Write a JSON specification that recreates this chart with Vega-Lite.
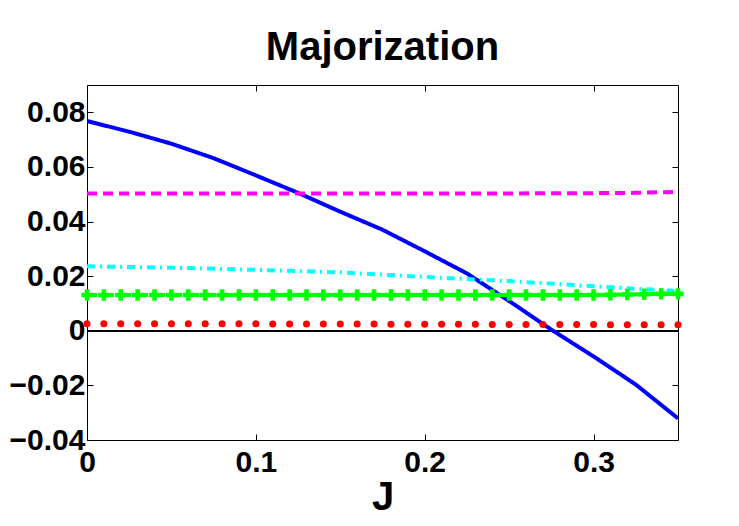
{
  "$schema": "https://vega.github.io/schema/vega-lite/v6.json",
  "width": 591,
  "height": 355,
  "autosize": {"type": "none"},
  "padding": {"left": 87, "top": 85, "right": 61, "bottom": 86},
  "background": "white",
  "title": {"text": "Majorization", "font": "Liberation Sans", "fontSize": 40, "fontWeight": "bold", "color": "black", "anchor": "middle", "baseline": "alphabetic", "offset": 25, "dy": 40},
  "config": {
    "view": {"stroke": "black", "strokeWidth": 1},
    "axis": {"grid": false, "domain": false, "tickColor": "black", "tickWidth": 1, "labelFont": "Liberation Sans", "labelFontSize": 30, "labelFontWeight": "bold", "labelColor": "black", "titleFont": "Liberation Sans", "titleFontSize": 40, "titleFontWeight": "bold", "titleColor": "black", "labelOverlap": false, "labelFlush": false, "labelBound": false}
  },
  "data": {"values": [
    {"J": 0, "v": 0.0768, "s": "blue"}, {"J": 0.025, "v": 0.0729, "s": "blue"}, {"J": 0.05, "v": 0.0685, "s": "blue"}, {"J": 0.075, "v": 0.0632, "s": "blue"}, {"J": 0.1, "v": 0.0569, "s": "blue"}, {"J": 0.125, "v": 0.0505, "s": "blue"}, {"J": 0.15, "v": 0.0436, "s": "blue"}, {"J": 0.175, "v": 0.037, "s": "blue"}, {"J": 0.2, "v": 0.0291, "s": "blue"}, {"J": 0.225, "v": 0.021, "s": "blue"}, {"J": 0.25, "v": 0.0109, "s": "blue"}, {"J": 0.275, "v": 0.0004, "s": "blue"}, {"J": 0.3, "v": -0.0094, "s": "blue"}, {"J": 0.325, "v": -0.0197, "s": "blue"}, {"J": 0.35, "v": -0.0321, "s": "blue"},
    {"J": 0, "v": 0.0503, "s": "magenta"}, {"J": 0.05, "v": 0.0503, "s": "magenta"}, {"J": 0.1, "v": 0.0503, "s": "magenta"}, {"J": 0.15, "v": 0.0503, "s": "magenta"}, {"J": 0.2, "v": 0.0503, "s": "magenta"}, {"J": 0.25, "v": 0.0503, "s": "magenta"}, {"J": 0.3, "v": 0.0504, "s": "magenta"}, {"J": 0.325, "v": 0.0505, "s": "magenta"}, {"J": 0.35, "v": 0.0509, "s": "magenta"},
    {"J": 0, "v": 0.0236, "s": "cyan"}, {"J": 0.05, "v": 0.0231, "s": "cyan"}, {"J": 0.1, "v": 0.0223, "s": "cyan"}, {"J": 0.15, "v": 0.0214, "s": "cyan"}, {"J": 0.2, "v": 0.0197, "s": "cyan"}, {"J": 0.25, "v": 0.0182, "s": "cyan"}, {"J": 0.3, "v": 0.0163, "s": "cyan"}, {"J": 0.35, "v": 0.0145, "s": "cyan"},
    {"J": 0, "v": 0.0131, "s": "green"}, {"J": 0.01, "v": 0.0131, "s": "green"}, {"J": 0.02, "v": 0.0131, "s": "green"}, {"J": 0.03, "v": 0.0131, "s": "green"}, {"J": 0.04, "v": 0.0131, "s": "green"}, {"J": 0.05, "v": 0.0131, "s": "green"}, {"J": 0.06, "v": 0.0131, "s": "green"}, {"J": 0.07, "v": 0.0131, "s": "green"}, {"J": 0.08, "v": 0.0131, "s": "green"}, {"J": 0.09, "v": 0.0131, "s": "green"}, {"J": 0.1, "v": 0.0131, "s": "green"}, {"J": 0.11, "v": 0.0131, "s": "green"}, {"J": 0.12, "v": 0.0131, "s": "green"}, {"J": 0.13, "v": 0.0131, "s": "green"}, {"J": 0.14, "v": 0.0131, "s": "green"}, {"J": 0.15, "v": 0.0131, "s": "green"}, {"J": 0.16, "v": 0.0131, "s": "green"}, {"J": 0.17, "v": 0.0131, "s": "green"}, {"J": 0.18, "v": 0.0131, "s": "green"}, {"J": 0.19, "v": 0.0131, "s": "green"}, {"J": 0.2, "v": 0.0131, "s": "green"}, {"J": 0.21, "v": 0.0131, "s": "green"}, {"J": 0.22, "v": 0.0131, "s": "green"}, {"J": 0.23, "v": 0.0131, "s": "green"}, {"J": 0.24, "v": 0.0131, "s": "green"}, {"J": 0.25, "v": 0.0131, "s": "green"}, {"J": 0.26, "v": 0.0131, "s": "green"}, {"J": 0.27, "v": 0.0131, "s": "green"}, {"J": 0.28, "v": 0.0131, "s": "green"}, {"J": 0.29, "v": 0.0131, "s": "green"}, {"J": 0.3, "v": 0.0131, "s": "green"}, {"J": 0.31, "v": 0.0132, "s": "green"}, {"J": 0.32, "v": 0.0133, "s": "green"}, {"J": 0.33, "v": 0.0134, "s": "green"}, {"J": 0.34, "v": 0.0135, "s": "green"}, {"J": 0.35, "v": 0.0135, "s": "green"},
    {"J": 0, "v": 0.0026, "s": "red"}, {"J": 0.01, "v": 0.0026, "s": "red"}, {"J": 0.02, "v": 0.0026, "s": "red"}, {"J": 0.03, "v": 0.0026, "s": "red"}, {"J": 0.04, "v": 0.0026, "s": "red"}, {"J": 0.05, "v": 0.0026, "s": "red"}, {"J": 0.06, "v": 0.0026, "s": "red"}, {"J": 0.07, "v": 0.0026, "s": "red"}, {"J": 0.08, "v": 0.0026, "s": "red"}, {"J": 0.09, "v": 0.0026, "s": "red"}, {"J": 0.1, "v": 0.0026, "s": "red"}, {"J": 0.11, "v": 0.0025, "s": "red"}, {"J": 0.12, "v": 0.0025, "s": "red"}, {"J": 0.13, "v": 0.0025, "s": "red"}, {"J": 0.14, "v": 0.0025, "s": "red"}, {"J": 0.15, "v": 0.0025, "s": "red"}, {"J": 0.16, "v": 0.0025, "s": "red"}, {"J": 0.17, "v": 0.0025, "s": "red"}, {"J": 0.18, "v": 0.0024, "s": "red"}, {"J": 0.19, "v": 0.0024, "s": "red"}, {"J": 0.2, "v": 0.0024, "s": "red"}, {"J": 0.21, "v": 0.0024, "s": "red"}, {"J": 0.22, "v": 0.0024, "s": "red"}, {"J": 0.23, "v": 0.0024, "s": "red"}, {"J": 0.24, "v": 0.0023, "s": "red"}, {"J": 0.25, "v": 0.0023, "s": "red"}, {"J": 0.26, "v": 0.0023, "s": "red"}, {"J": 0.27, "v": 0.0023, "s": "red"}, {"J": 0.28, "v": 0.0023, "s": "red"}, {"J": 0.29, "v": 0.0023, "s": "red"}, {"J": 0.3, "v": 0.0023, "s": "red"}, {"J": 0.31, "v": 0.0022, "s": "red"}, {"J": 0.32, "v": 0.0022, "s": "red"}, {"J": 0.33, "v": 0.0022, "s": "red"}, {"J": 0.34, "v": 0.0022, "s": "red"}, {"J": 0.35, "v": 0.0022, "s": "red"}
  ]},
  "layer": [
    {
      "mark": {"type": "rule", "color": "black", "strokeWidth": 1},
      "encoding": {
        "y": {"datum": 0, "type": "quantitative", "scale": {"domain": [-0.04, 0.09], "nice": false, "zero": false}, "axis": {"orient": "right", "values": [-0.04, -0.02, 0, 0.02, 0.04, 0.06, 0.08], "labels": false, "tickSize": -6, "title": null}}
      }
    },
    {
      "transform": [{"filter": "datum.s !== 'red'"}],
      "mark": {"type": "line", "strokeWidth": 4, "clip": true},
      "encoding": {
        "x": {"field": "J", "type": "quantitative", "scale": {"domain": [0, 0.35], "nice": false, "zero": false}, "axis": {"values": [0, 0.1, 0.2, 0.3], "tickSize": -6, "labelPadding": 13, "labelExpr": "datum.value == 0 ? '0' : format(datum.value, '.1f')", "title": "J", "titlePadding": 0}},
        "y": {"field": "v", "type": "quantitative", "axis": {"values": [-0.04, -0.02, 0, 0.02, 0.04, 0.06, 0.08], "tickSize": -6, "labelPadding": 8, "labelExpr": "datum.value == 0 ? '0' : format(datum.value, '.2f')", "title": null}},
        "color": {"field": "s", "type": "nominal", "scale": {"domain": ["blue", "magenta", "cyan", "green"], "range": ["#0000ff", "#ff00ff", "#00ffff", "#00ff00"]}, "legend": null},
        "strokeDash": {"field": "s", "type": "nominal", "scale": {"domain": ["blue", "magenta", "cyan", "green"], "range": [[1, 0], [10, 6], [8, 5, 2, 5], [10, 7]]}, "legend": null},
        "detail": {"field": "s"}
      }
    },
    {
      "transform": [{"filter": "datum.s === 'green'"}],
      "mark": {"type": "point", "shape": "cross", "filled": true, "size": 130, "color": "#00ff00", "opacity": 1},
      "encoding": {
        "x": {"field": "J", "type": "quantitative", "axis": {"orient": "top", "values": [0, 0.1, 0.2, 0.3], "labels": false, "tickSize": -6, "title": null}},
        "y": {"field": "v", "type": "quantitative", "axis": null}
      }
    },
    {
      "transform": [{"filter": "datum.s === 'red'"}],
      "mark": {"type": "point", "shape": "circle", "filled": true, "size": 50, "color": "#ff0000", "opacity": 1},
      "encoding": {
        "x": {"field": "J", "type": "quantitative", "axis": null},
        "y": {"field": "v", "type": "quantitative", "axis": null}
      }
    }
  ],
  "resolve": {"axis": {"x": "independent", "y": "independent"}}
}
